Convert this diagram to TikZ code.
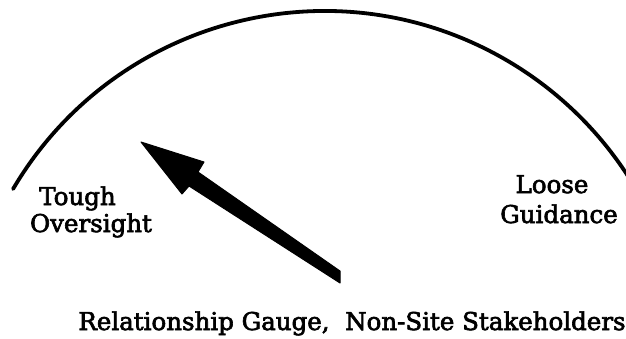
\documentclass[tikz,border=0pt]{standalone}
\usepackage{fontspec}
\setmainfont[FakeBold=2.6,AutoFakeBold=2.6]{DejaVu Serif}
\begin{document}
\begin{tikzpicture}[x=1pt,y=1pt,
  lbl/.style={inner sep=0pt, font=\fontsize{24.5}{28}\selectfont\bfseries},
  gaugearc/.style={line width=3.8pt, line cap=round},
  needle/.style={fill=black, draw=black, line width=1pt, line join=round}]
\useasboundingbox (0,0) rectangle (626,338);
% gauge arc (circle centre (324.5,-34.5), radius 361.5)
\draw[gaugearc] (324.5,-34.5) ++(149.5:361.5) arc[start angle=149.5, end angle=31, radius=361.5];
% needle
\coordinate (tip) at (141,196);
\coordinate (barbA) at (204,176);
\coordinate (innA) at (198,166);
\coordinate (tailA) at (340,67);
\coordinate (tailB) at (340,55);
\coordinate (innB) at (189,152);
\coordinate (barbB) at (182,144);
\fill[needle] (tip) -- (barbA) -- (innA) -- (tailA) -- (tailB) -- (innB) -- (barbB) -- cycle;
% labels
\node[lbl, anchor=base] (tough) at (77.5,133) {Tough};
\node[lbl, anchor=base] (over) at (91,106) {Oversight};
\node[lbl, anchor=base] (loose) at (552,145) {Loose};
\node[lbl, anchor=base] (guid) at (559,115) {Guidance};
\node[lbl, anchor=base] (title) at (352,8) {Relationship Gauge,\ \ Non-Site Stakeholders};
\end{tikzpicture}
\end{document}
